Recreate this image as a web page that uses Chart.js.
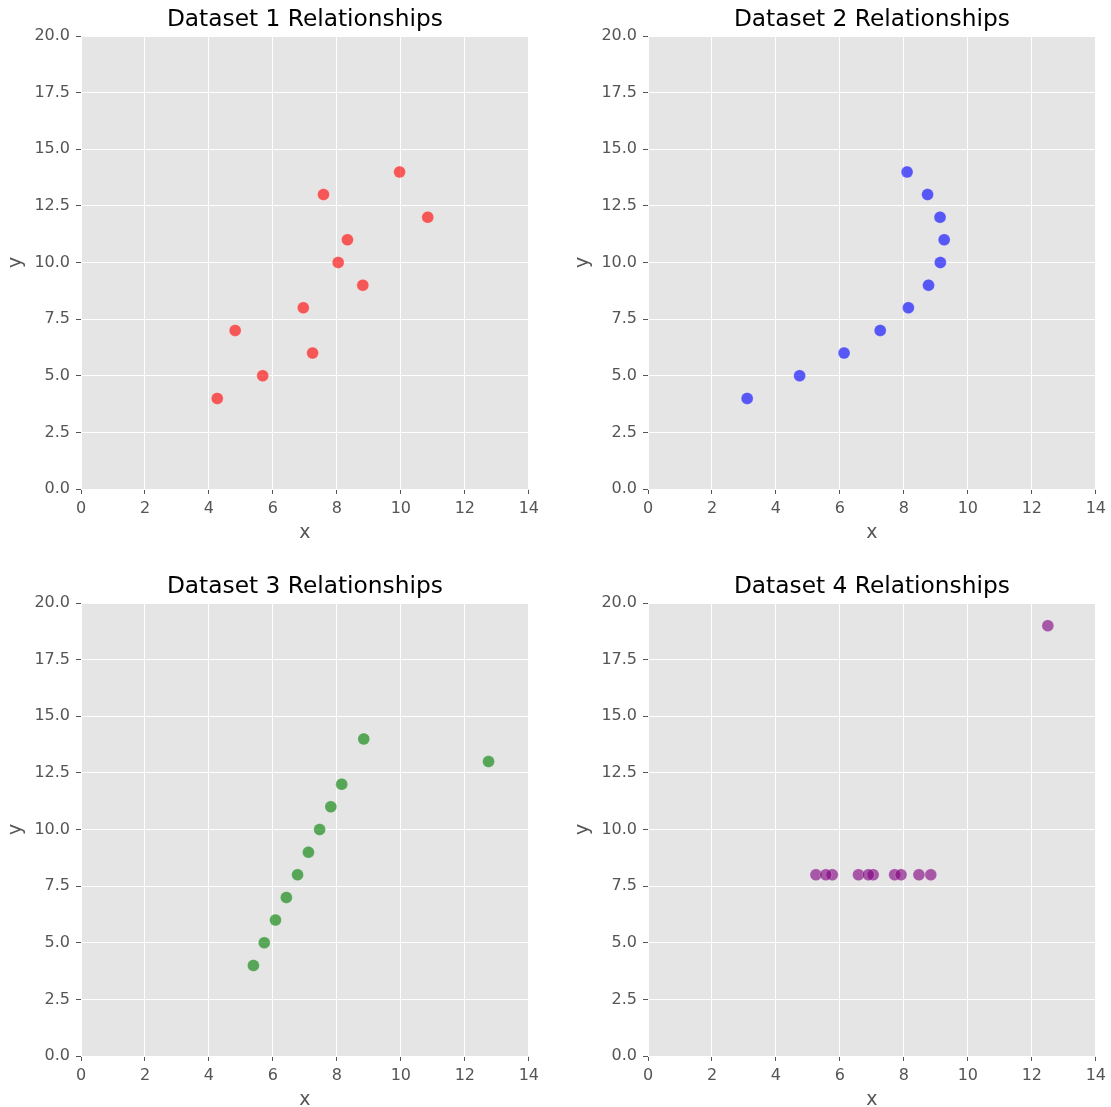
<!DOCTYPE html>
<html>
<head>
<meta charset="utf-8">
<script src="https://cdn.jsdelivr.net/npm/chart.js@4"></script>
<style>
body { margin:0; background:#fff; width:1111px; height:1107px; position:relative; overflow:hidden; }
canvas { position:absolute; }
</style>
</head>
<body>
<canvas id="c1" width="544" height="545" style="left:0px;top:0px"></canvas>
<canvas id="c2" width="544" height="545" style="left:567px;top:0px"></canvas>
<canvas id="c3" width="544" height="545" style="left:0px;top:567px"></canvas>
<canvas id="c4" width="544" height="545" style="left:567px;top:567px"></canvas>
<script>
// Anscombe-style data, x on horizontal, y on vertical
var y_common = [10, 8, 13, 9, 11, 14, 6, 4, 12, 7, 5]
var x1 = [8.04, 6.95, 7.58, 8.81, 8.33, 9.96, 7.24, 4.26, 10.84, 4.82, 5.68]
var x2 = [9.14, 8.14, 8.74, 8.77, 9.26, 8.10, 6.13, 3.10, 9.13, 7.26, 4.74]
var x3 = [7.46, 6.77, 12.74, 7.11, 7.81, 8.84, 6.08, 5.39, 8.15, 6.42, 5.73]
var x4 = [6.58, 5.76, 7.71, 8.84, 8.47, 7.04, 5.25, 12.50, 5.56, 7.91, 6.89]
var y4 = [8, 8, 8, 8, 8, 8, 8, 19, 8, 8, 8]

var titles = ["Dataset 1 Relationships", "Dataset 2 Relationships", "Dataset 3 Relationships", "Dataset 4 Relationships"]
var colors = ["rgba(255,0,0,0.62)", "rgba(0,0,255,0.62)", "rgba(0,128,0,0.62)", "rgba(128,0,128,0.62)"]

var FONT = "'DejaVu Sans', sans-serif"

function pts(xs, ys){
    var out = []
    for (var i = 0; i < xs.length; i++) out.push({x: xs[i], y: ys[i]})
    return out
}

var panelPlugin = {
    id: 'panel',
    beforeDraw: function(chart){
        var a = chart.chartArea, ctx = chart.ctx
        ctx.save()
        ctx.fillStyle = '#E5E5E5'
        ctx.fillRect(a.left, a.top, a.right - a.left, a.bottom - a.top)
        ctx.restore()
    },
    afterDraw: function(chart){
        var a = chart.chartArea, ctx = chart.ctx
        ctx.save()
        ctx.fillStyle = '#000'
        ctx.font = "23.3px " + FONT
        ctx.textAlign = 'center'
        ctx.textBaseline = 'middle'
        ctx.fillText(chart.options.plugins.panel.text, (a.left + a.right) / 2, 20)
        ctx.restore()
    }
}

function makeChart(id, data, color, title){
    var ctx = document.getElementById(id).getContext('2d')
    return new Chart(ctx, {
        type: 'scatter',
        data: {
            datasets: [{
                data: data,
                backgroundColor: color,
                borderColor: 'rgba(255,255,255,0.5)',
                borderWidth: 0.5,
                pointRadius: 6,
                pointHoverRadius: 6
            }]
        },
        options: {
            responsive: false,
            animation: false,
            layout: { padding: { top: 36, right: 14, left: 0, bottom: 0 } },
            plugins: {
                legend: { display: false },
                tooltip: { enabled: false },
                panel: { text: title }
            },
            scales: {
                x: {
                    type: 'linear', min: 0, max: 14,
                    ticks: { stepSize: 2, color: '#555555', font: { family: FONT, size: 16 }, padding: 5, maxRotation: 0 },
                    grid: { color: '#ffffff', lineWidth: 1, tickColor: '#555555', tickLength: 5 },
                    border: { display: false },
                    title: { display: true, text: 'x', color: '#555555', font: { family: FONT, size: 19 }, padding: { top: 0, bottom: 1 } },
                    afterFit: function(s){ s.height = 56 }
                },
                y: {
                    type: 'linear', min: 0, max: 20,
                    ticks: { stepSize: 2.5, color: '#555555', font: { family: FONT, size: 16 }, padding: 6,
                        callback: function(v){ return v.toFixed(1) } },
                    grid: { color: '#ffffff', lineWidth: 1, tickColor: '#555555', tickLength: 5 },
                    border: { display: false },
                    title: { display: true, text: 'y', color: '#555555', font: { family: FONT, size: 19 }, padding: { top: 5, bottom: 0 } },
                    afterFit: function(s){ s.width = 81 }
                }
            }
        },
        plugins: [panelPlugin]
    })
}

makeChart('c1', pts(x1, y_common), colors[0], titles[0])
makeChart('c2', pts(x2, y_common), colors[1], titles[1])
makeChart('c3', pts(x3, y_common), colors[2], titles[2])
makeChart('c4', pts(x4, y4), colors[3], titles[3])
</script>
</body>
</html>
